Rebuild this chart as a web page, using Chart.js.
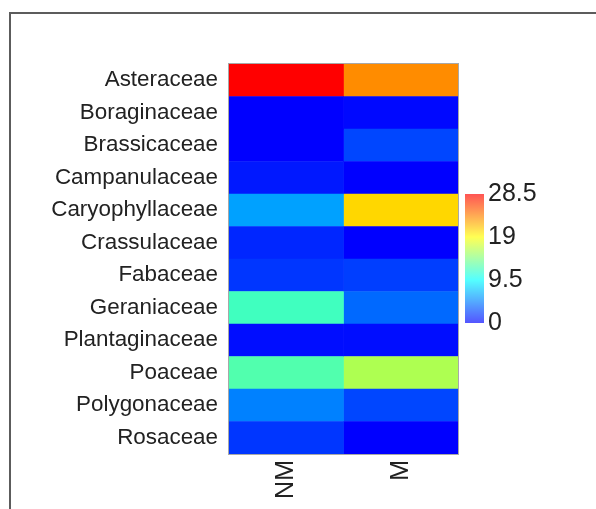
<!DOCTYPE html>
<html><head><meta charset="utf-8">
<script src="https://cdn.jsdelivr.net/npm/chart.js@4.4.1/dist/chart.umd.min.js"></script>
<style>
html,body{margin:0;padding:0;background:#fff;}
body{width:596px;height:509px;position:relative;overflow:hidden;}
#frame{position:absolute;left:9px;top:12px;width:700px;height:700px;border-left:2px solid #5c5c5c;border-top:2px solid #5c5c5c;}
#main{position:absolute;left:0;top:0;}
#bar{position:absolute;left:455px;top:175px;}
</style></head><body>
<div id="frame"></div>
<canvas id="main" width="596" height="509"></canvas>
<canvas id="bar" width="110" height="170"></canvas>
<script>
const families = ['Asteraceae','Boraginaceae','Brassicaceae','Campanulaceae','Caryophyllaceae','Crassulaceae','Fabaceae','Geraniaceae','Plantaginaceae','Poaceae','Polygonaceae','Rosaceae'];
const columns = ['NM','M'];
const valuesNM = [28.5, 0, 0, 0.9, 6.0, 1.4, 2.0, 11.9, 0.5, 12.5, 4.8, 2.0];
const valuesM  = [23.3, 0.3, 2.6, 0, 20.5, 0, 2.3, 3.9, 0.5, 16.0, 2.6, 0];
const scaleTicks = [0, 9.5, 19, 28.5];
const scaleMin = 0;
const scaleMax = 28.5;

function jetRGB(v){
  const t = Math.max(0, Math.min(1, (v - scaleMin) / (scaleMax - scaleMin)));
  let r, g, b;
  if (t < 1/3) { const s = t*3; r = 0; g = 255*s; b = 255; }
  else if (t < 2/3) { const s = (t-1/3)*3; r = 255*s; g = 255; b = 255*(1-s); }
  else { const s = (t-2/3)*3; r = 255; g = 255*(1-s); b = 0; }
  return [r, g, b];
}
const rgb = a => `rgb(${a.map(x=>Math.round(x)).join(',')})`;
const jet = v => rgb(jetRGB(v));
const jetLight = v => rgb(jetRGB(v).map(x => x + (255 - x) * 0.33));

const font = 'Liberation Sans, Arial, sans-serif';

new Chart(document.getElementById('main'), {
  type: 'bar',
  data: {
    labels: families,
    datasets: [valuesNM, valuesM].map((vals, ci) => ({
      label: columns[ci],
      data: vals.map(() => [ci, ci + 1]),
      backgroundColor: vals.map(jet),
      borderColor: vals.map(jet),
      borderWidth: 0,
      barPercentage: 1,
      categoryPercentage: 1,
      grouped: false
    }))
  },
  options: {
    indexAxis: 'y',
    responsive: false,
    animation: false,
    devicePixelRatio: 1,
    layout: { padding: { top: 64, right: 138, left: 0, bottom: 0 } },
    plugins: { legend: { display: false }, tooltip: { enabled: false } },
    scales: {
      y: {
        type: 'category',
        grid: { display: false, drawTicks: false },
        border: { display: false },
        ticks: { padding: 11, color: '#222', font: { family: font, size: 22.4 } },
        afterFit: s => { s.width = 229; }
      },
      x: {
        type: 'linear', min: 0, max: columns.length,
        grid: { display: false, drawTicks: false },
        border: { display: false },
        afterBuildTicks: s => { s.ticks = columns.map((c, i) => ({ value: i + 0.5 })); },
        ticks: {
          minRotation: 90, maxRotation: 90, padding: 6, autoSkip: false,
          color: '#222', font: { family: font, size: 25 },
          callback: (v, i) => columns[i]
        },
        afterFit: s => { s.height = 55; }
      }
    }
  },
  plugins: [{
    id: 'outline',
    afterDatasetsDraw(c) {
      const a = c.chartArea, ctx = c.ctx;
      ctx.save();
      ctx.strokeStyle = '#a8a8a8';
      ctx.lineWidth = 1;
      ctx.strokeRect(a.left - 0.5, a.top - 0.5, a.width + 1, a.height + 1);
      ctx.restore();
    }
  }]
});

new Chart(document.getElementById('bar'), {
  type: 'bar',
  data: {
    labels: [''],
    datasets: [{
      data: [[scaleMin, scaleMax]],
      backgroundColor: ctx => {
        const c = ctx.chart;
        if (!c.chartArea) return 'transparent';
        const ys = c.scales.y;
        const g = c.ctx.createLinearGradient(0, ys.getPixelForValue(scaleMin), 0, ys.getPixelForValue(scaleMax));
        const n = 24;
        for (let i = 0; i <= n; i++) {
          g.addColorStop(i / n, jetLight(scaleMin + (scaleMax - scaleMin) * i / n));
        }
        return g;
      },
      borderWidth: 0,
      barPercentage: 1,
      categoryPercentage: 1
    }]
  },
  options: {
    responsive: false,
    animation: false,
    devicePixelRatio: 1,
    layout: { padding: { top: 19, bottom: 22, left: 10, right: 0 } },
    plugins: { legend: { display: false }, tooltip: { enabled: false } },
    scales: {
      x: { display: false },
      y: {
        position: 'right', min: scaleMin, max: scaleMax,
        afterBuildTicks: s => { s.ticks = scaleTicks.map(v => ({ value: v })); },
        grid: { display: false, drawTicks: false },
        border: { display: false },
        ticks: { padding: 4, color: '#222', font: { family: font, size: 25 }, callback: v => String(v) },
        afterFit: s => { s.width = 81; }
      }
    }
  }
});
</script>
</body></html>
